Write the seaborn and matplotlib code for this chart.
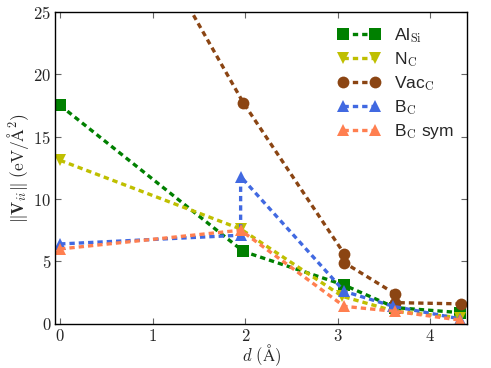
import pandas as pd
import matplotlib
matplotlib.use("Agg")
import matplotlib.pyplot as plt
from matplotlib.ticker import FuncFormatter
import seaborn as sns

# ------------------------------------------------------------
# data
# ------------------------------------------------------------
labels = [r"Al$_{\rm Si}$", r"N$_{\rm C}$", r"Vac$_{\rm C}$", r"B$_{\rm C}$", r"B$_{\rm C}$ sym"]

d_al = [0.0, 1.98, 3.07, 3.62, 4.32]
v_al = [17.5, 5.8, 3.1, 1.3, 0.9]

d_n = [0.0, 1.95, 3.05, 3.62, 4.32]
v_n = [13.1, 7.6, 2.2, 1.0, 0.5]

d_vac = [0.0, 1.98, 3.07, 3.07, 3.62, 3.62, 4.33]
v_vac = [43.5, 17.7, 5.6, 4.9, 2.4, 1.7, 1.6]

d_b = [0.0, 1.95, 1.95, 3.07, 3.6, 4.32]
v_b = [6.4, 7.1, 11.8, 2.6, 1.4, 0.4]

d_bs = [0.0, 1.95, 3.07, 3.62, 4.32]
v_bs = [6.0, 7.5, 1.4, 1.0, 0.3]

series = [(d_al, v_al), (d_n, v_n), (d_vac, v_vac), (d_b, v_b), (d_bs, v_bs)]
colors = ["green", "y", "saddlebrown", "royalblue", "coral"]
marks = ["s", "v", "o", "^", "^"]

# ------------------------------------------------------------
# style
# ------------------------------------------------------------
sns.set_style("ticks")
plt.rcParams["font.family"] = ["Liberation Sans", "DejaVu Sans"]
plt.rcParams["mathtext.fontset"] = "cm"

fig, ax = plt.subplots(figsize=(4.91, 3.68), dpi=100)
fig.subplots_adjust(left=0.113, right=0.952, top=0.968, bottom=0.12)

for (d, v), lab, c, m in zip(series, labels, colors, marks):
    df = pd.DataFrame({"d": d, "V": v})
    sns.lineplot(data=df, x="d", y="V", ax=ax, estimator=None, sort=False,
                 color=c, marker=m, markersize=8.5, markeredgewidth=0,
                 linewidth=2.4, linestyle=(0, (1.6, 1.2)), label=lab, legend=False)

ax.set_xlim(-0.05, 4.4)
ax.set_ylim(0, 25)
ax.set_xticks([0, 1, 2, 3, 4])
ax.set_yticks([0, 5, 10, 15, 20, 25])
fmt = FuncFormatter(lambda v, p: f"${v:g}$")
ax.xaxis.set_major_formatter(fmt)
ax.yaxis.set_major_formatter(fmt)
ax.tick_params(direction="in", top=True, right=True, labelsize=12, length=4,
               color="0.4", pad=3)
for s in ax.spines.values():
    s.set_color("black")
    s.set_linewidth(1.0)

ax.set_xlabel(r"$d\ (\mathrm{\AA})$", fontsize=12, labelpad=-1)
ax.set_ylabel(r"$\|\mathbf{V}_{ii}\|\ (\mathrm{eV}/\mathrm{\AA}^2)$", fontsize=12.5, labelpad=2)

ax.legend(ax.lines, labels, numpoints=2, frameon=False, loc="upper right",
          fontsize=12.5, handlelength=2.4, labelspacing=0.3, borderaxespad=0.4,
          handletextpad=0.8)

fig.savefig("out.png", dpi=100)
